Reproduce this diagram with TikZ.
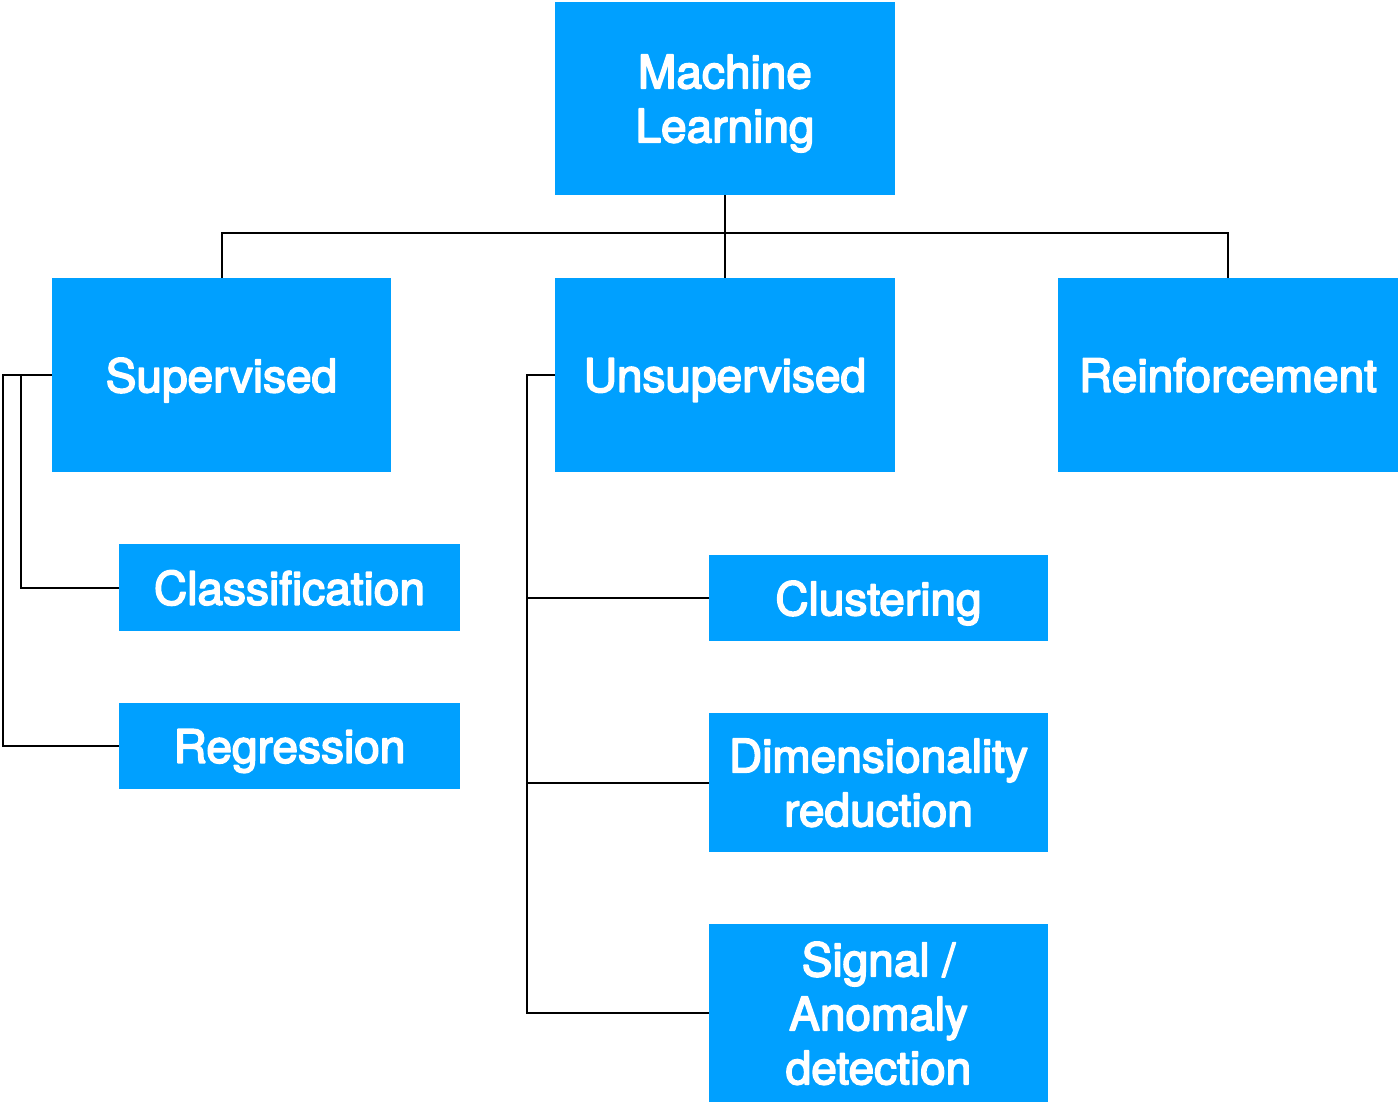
\documentclass[tikz,border=0pt]{standalone}
\usepackage{fontspec}
\setmainfont{TeX Gyre Heros}
\newcommand{\heavytext}[1]{\special{pdf:literal direct 2 Tr 0.8 w 1 j}#1\special{pdf:literal direct 0 Tr}}
\definecolor{boxblue}{RGB}{0,160,255}
\begin{document}
\begin{tikzpicture}[x=0.5pt,y=-0.5pt,
  box/.style={fill=boxblue,text=white,inner sep=0pt,align=center,
    text depth=-2pt,
    font=\fontsize{23pt}{27pt}\selectfont},
  conn/.style={draw=black,line width=1pt}]
\useasboundingbox (0,0) rectangle (1400,1104);
% top level
\node[box,minimum width=170pt,minimum height=96.5pt] (ml) at (725,98.5) {\heavytext{Machine\\Learning}};
\node[box,minimum width=169.5pt,minimum height=97pt] (sup) at (221.5,375) {\heavytext{Supervised}};
\node[box,minimum width=170pt,minimum height=97pt] (unsup) at (725,375) {\heavytext{Unsupervised}};
\node[box,minimum width=170pt,minimum height=97pt] (rein) at (1228,375) {\heavytext{Reinforcement}};
% supervised children
\node[box,minimum width=170.5pt,minimum height=43.5pt] (cls) at (289.5,587.5) {\heavytext{Classification}};
\node[box,minimum width=170.5pt,minimum height=43pt] (reg) at (289.5,746) {\heavytext{Regression}};
% unsupervised children
\node[box,minimum width=169.5pt,minimum height=43pt] (clu) at (878.5,598) {\heavytext{Clustering}};
\node[box,minimum width=169.5pt,minimum height=69.5pt] (dim) at (878.5,782.5) {\heavytext{Dimensionality\\reduction}};
\node[box,minimum width=169.5pt,minimum height=89pt] (sig) at (878.5,1013) {\heavytext{Signal /\\Anomaly\\detection}};
% connectors
\coordinate (bus) at (725,233);
\draw[conn] (ml.south) -- (unsup.north);
\draw[conn] (sup.north) |- (bus) -| (rein.north);
\coordinate (s1) at (3,375);
\coordinate (s2) at (21,375);
\draw[conn] (sup.west) -- (s1) |- (reg.west);
\draw[conn] (s2) |- (cls.west);
\coordinate (u1) at (527,375);
\draw[conn] (unsup.west) -- (u1) |- (sig.west);
\draw[conn] (u1 |- clu.west) -- (clu.west);
\draw[conn] (u1 |- dim.west) -- (dim.west);
\end{tikzpicture}
\end{document}
